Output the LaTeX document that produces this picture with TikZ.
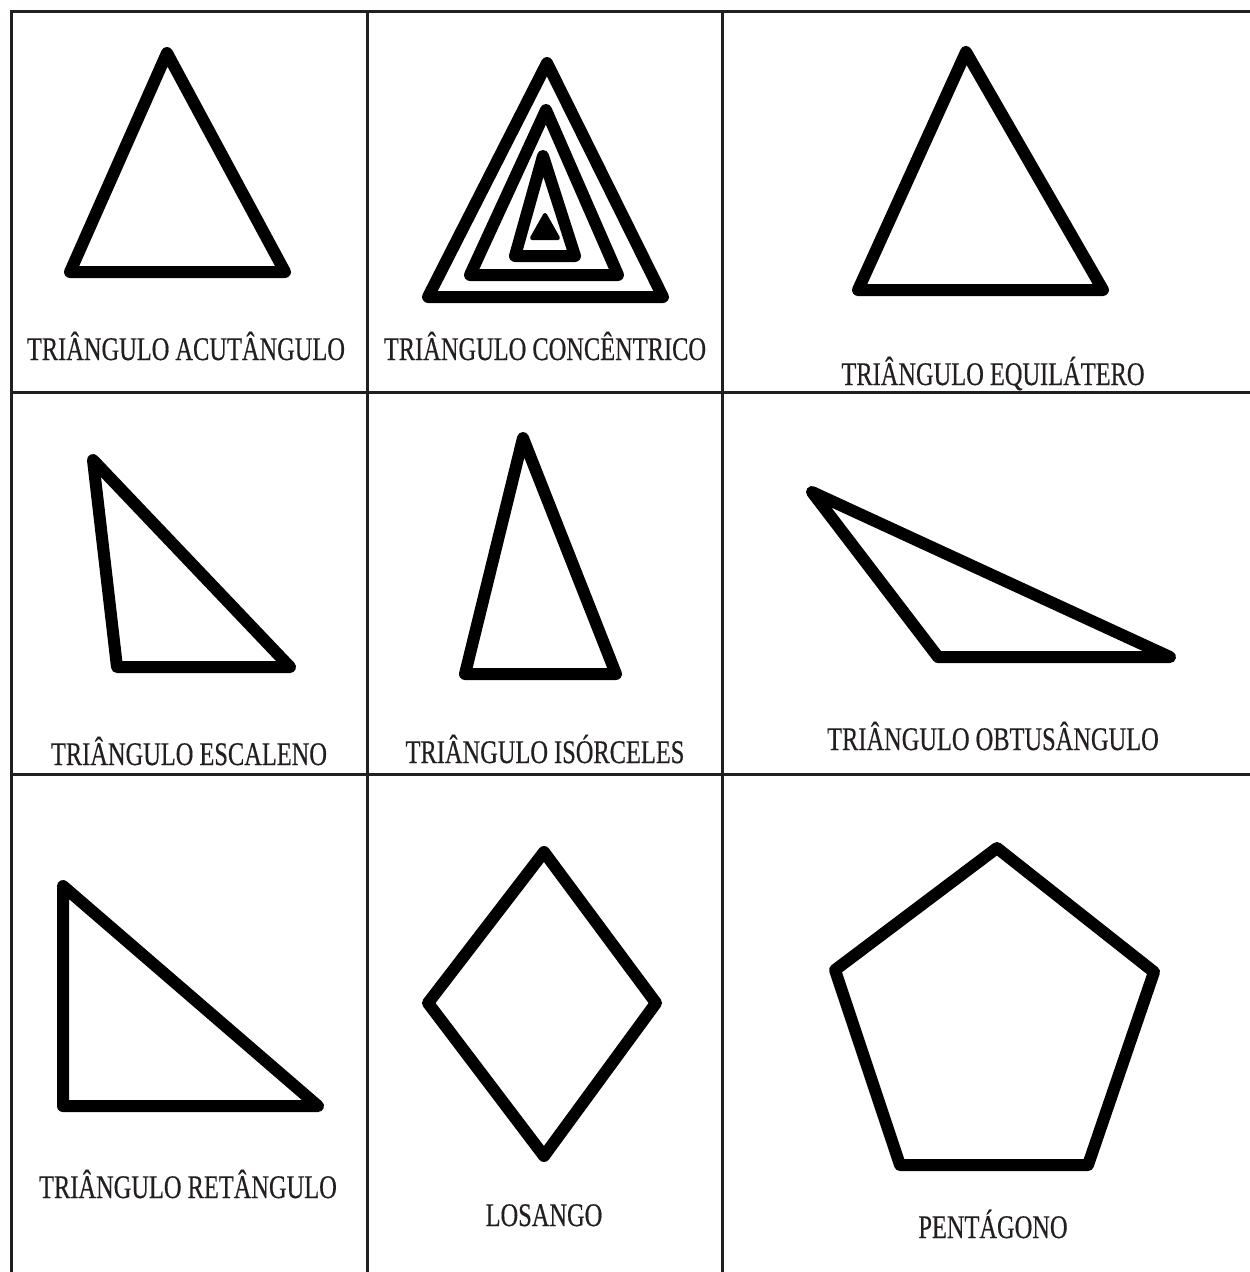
\documentclass[tikz,border=0pt]{standalone}
\usepackage{fontspec}
\setmainfont{Liberation Serif}[FakeStretch=0.74, FakeBold=0.4]
\usetikzlibrary{positioning}
\definecolor{gridgray}{HTML}{231F20}
\tikzset{
  gridline/.style={
    draw=gridgray,
    line width=3},
  figure/.style={
    draw=black,
    line width=12,
    line join=round},
  caption/.style={
    anchor=base,
    inner sep=0pt,
    text=gridgray,
    font=\fontsize{33}{36}\selectfont}
}

\begin{document}
\begin{tikzpicture}[x=1pt, y=-1pt]
\useasboundingbox (0,0) rectangle (1250,1272);

% --- table lines ---
\draw[gridline] (10,11) -- (1250,11);
\foreach \ya in {392,774}
  \draw[gridline] (10,\ya) -- (1250,\ya);
\foreach \xa in {11,367,722}
  \draw[gridline] (\xa,10) -- (\xa,1272);

% --- first row ---
\draw[figure] (167,53) -- (70,272) -- (285,272) -- cycle;
\draw[figure] (547,63) -- (428,297) -- (663,297) -- cycle;
\draw[figure] (546,110) -- (470,275) -- (618,275) -- cycle;
\draw[figure] (543,156) -- (515,256) -- (575,256) -- cycle;
\filldraw[line width=4, line join=round] (545,215) -- (532,238) -- (558,238) -- cycle;
\draw[figure] (966,52) -- (858,290) -- (1103,290) -- cycle;

\node[caption] (acut) at (186,360) {TRIÂNGULO ACUTÂNGULO};
\node[caption] (conc) at (545,360) {TRIÂNGULO CONCÊNTRICO};
\node[caption] (equi) at (993,385) {TRIÂNGULO EQUILÁTERO};

% --- second row ---
\draw[figure] (93,460) -- (117,667) -- (290,667) -- cycle;
\draw[figure] (523,438) -- (465,674) -- (616,674) -- cycle;
\draw[figure] (812,492) -- (938,657) -- (1170,657) -- cycle;

\node[caption] (esca) at (189,765) {TRIÂNGULO ESCALENO};
\node[caption] (isos) at (545,763) {TRIÂNGULO ISÓRCELES};
\node[caption] (obtu) at (993,750) {TRIÂNGULO OBTUSÂNGULO};

% --- third row ---
\draw[figure] (63,886) -- (63,1106) -- (318,1106) -- cycle;
\draw[figure] (544,852) -- (656,1003) -- (544,1156) -- (428,1003) -- cycle;
\draw[figure] (997,848) -- (1154,972) -- (1088,1165) -- (900,1165) -- (835,970) -- cycle;

\node[caption] (reta) at (188,1198) {TRIÂNGULO RETÂNGULO};
\node[caption] (losa) at (544,1226) {LOSANGO};
\node[caption] (pent) at (993,1238) {PENTÁGONO};

\end{tikzpicture}
\end{document}
